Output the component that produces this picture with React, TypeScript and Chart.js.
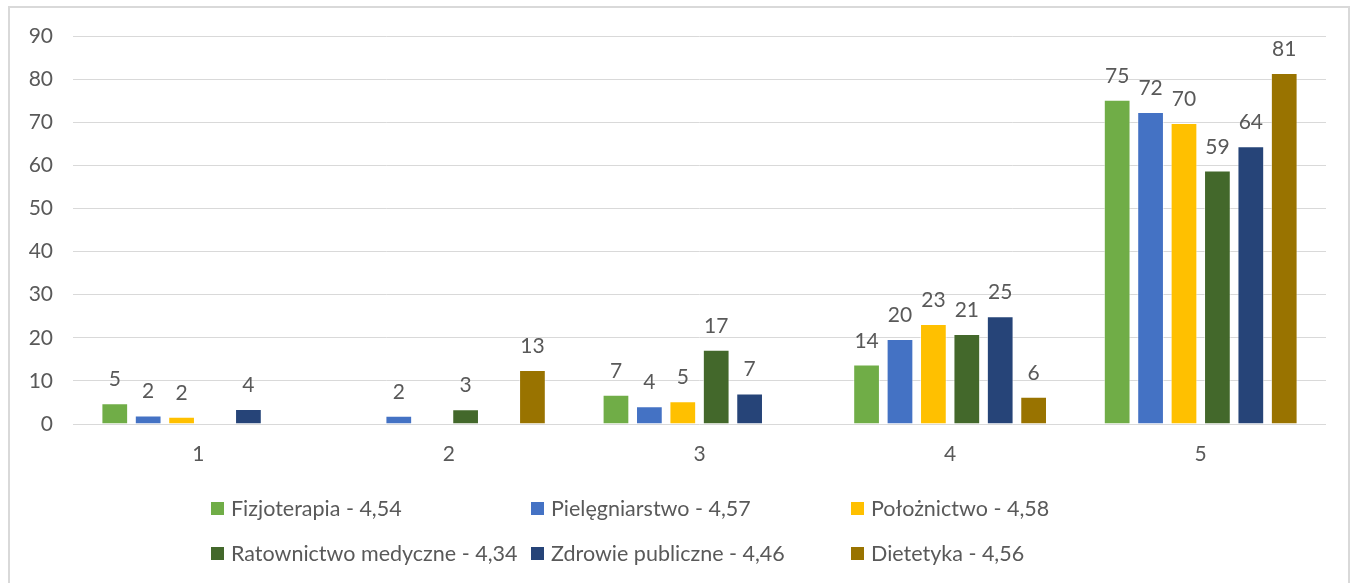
import React, { useEffect, useRef } from "react";
import { Chart, registerables } from "chart.js";

Chart.register(...registerables);

const categories = ["1", "2", "3", "4", "5"];
const seriesNames = [
  "Fizjoterapia - 4,54",
  "Pielęgniarstwo - 4,57",
  "Położnictwo - 4,58",
  "Ratownictwo medyczne - 4,34",
  "Zdrowie publiczne - 4,46",
  "Dietetyka - 4,56",
];
const fizjoterapia = [4.8, 0, 6.8, 13.8, 75.2];
const pielegniarstwo = [2.0, 1.9, 4.1, 19.7, 72.4];
const poloznictwo = [1.7, 0, 5.3, 23.2, 69.8];
const ratownictwo = [0, 3.4, 17.2, 20.9, 58.8];
const zdrowie = [3.5, 0, 7.1, 25.0, 64.4];
const dietetyka = [0, 12.5, 0, 6.3, 81.4];
const colors = ["#70AD47", "#4472C4", "#FFC000", "#43682B", "#264478", "#997300"];
const yMin = 0;
const yMax = 90;
const yStep = 10;

const FONT = "Lato, 'Open Sans', sans-serif";
const TEXT = "#595959";

export default function App() {
  const ref = useRef<HTMLCanvasElement | null>(null);

  useEffect(() => {
    const canvas = ref.current;
    if (!canvas) return;
    const series = [fizjoterapia, pielegniarstwo, poloznictwo, ratownictwo, zdrowie, dietetyka];

    const framePlugin = {
      id: "frame",
      beforeDraw(chart: any) {
        const c = chart.ctx;
        c.save();
        c.fillStyle = "#ffffff";
        c.fillRect(0, 0, chart.width, chart.height);
        c.strokeStyle = "#d9d9d9";
        c.lineWidth = 2;
        c.strokeRect(9, 7, chart.width - 17, chart.height + 20);
        c.restore();
      },
    };

    const labelPlugin = {
      id: "valueLabels",
      afterDatasetsDraw(chart: any) {
        const c = chart.ctx;
        c.save();
        c.fillStyle = TEXT;
        c.font = `21px ${FONT}`;
        c.textAlign = "center";
        c.textBaseline = "alphabetic";
        chart.data.datasets.forEach((ds: any, i: number) => {
          const meta = chart.getDatasetMeta(i);
          meta.data.forEach((el: any, j: number) => {
            const v = ds.data[j];
            if (!v) return;
            c.fillText(String(Math.round(v)), el.x, el.y - 17);
          });
        });
        c.restore();
      },
    };

    const legendPlugin = {
      id: "customLegend",
      afterDraw(chart: any) {
        const c = chart.ctx;
        c.save();
        c.font = `21.5px ${FONT}`;
        c.textBaseline = "middle";
        c.textAlign = "left";
        const cols = [211, 531, 851];
        const rows = [508.5, 553.5];
        seriesNames.forEach((name, i) => {
          const x = cols[i % 3];
          const y = rows[Math.floor(i / 3)];
          c.fillStyle = colors[i];
          c.fillRect(x, y - 6.5, 13, 13);
          c.fillStyle = TEXT;
          c.fillText(name, x + 20, y + 1);
        });
        c.restore();
      },
    };

    const chart = new Chart(canvas, {
      type: "bar",
      data: {
        labels: categories,
        datasets: series.map((d, i) => ({
          label: seriesNames[i],
          data: d,
          backgroundColor: colors[i],
          borderColor: "rgba(255,255,255,0.5)",
          borderWidth: 1,
          barPercentage: 0.8,
          categoryPercentage: 0.8,
        })),
      },
      options: {
        animation: false,
        responsive: false,
        maintainAspectRatio: false,
        layout: { padding: { left: 28, right: 31, top: 36, bottom: 109 } },
        plugins: {
          legend: { display: false },
          tooltip: { enabled: false },
        },
        scales: {
          x: {
            grid: { display: false, drawTicks: false },
            border: { display: false },
            ticks: { color: TEXT, font: { family: FONT, size: 21 }, padding: 18 },
            afterFit: (s: any) => {
              s.height = 50;
            },
          },
          y: {
            min: yMin,
            max: yMax,
            ticks: { stepSize: yStep, color: TEXT, font: { family: FONT, size: 21 }, padding: 20 },
            grid: { color: "#d9d9d9", lineWidth: 1, drawTicks: false },
            border: { display: false },
            afterFit: (s: any) => {
              s.width = 45;
            },
          },
        },
      },
      plugins: [framePlugin, labelPlugin, legendPlugin],
    });
    return () => chart.destroy();
  }, []);

  return (
    <div style={{ position: "absolute", left: 0, top: 0, width: 1357, height: 583 }}>
      <canvas ref={ref} width={1357} height={583} />
    </div>
  );
}
